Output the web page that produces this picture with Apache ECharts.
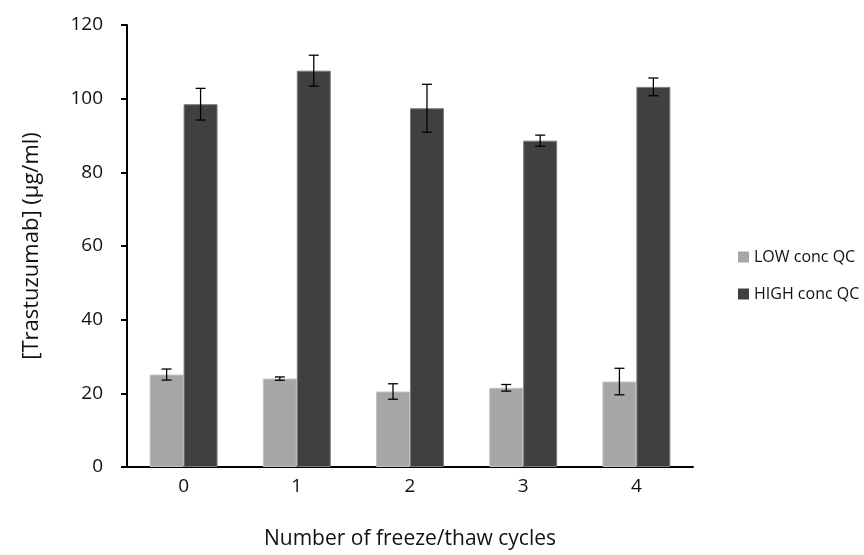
<!DOCTYPE html>
<html>
<head>
<meta charset="utf-8">
<script src="https://cdn.jsdelivr.net/npm/echarts@6/dist/echarts.min.js"></script>
<style>
  html, body { margin: 0; padding: 0; background: #fff; }
  #chart { width: 864px; height: 555px; }
</style>
</head>
<body>
<div id="chart"></div>
<script>
const categories = ['0', '1', '2', '3', '4'];
const lowMean = [25.1, 24.0, 20.5, 21.5, 23.2];
const lowErr = [1.5, 0.45, 2.1, 0.9, 3.6];
const highMean = [98.5, 107.6, 97.4, 88.6, 103.2];
const highErr = [4.3, 4.2, 6.5, 1.5, 2.4];
const yTicks = [0, 20, 40, 60, 80, 100, 120];

const font = '"Open Sans", "Noto Sans", sans-serif';

// error bar rows: [category index, mean, err, offset fraction of band]
const errRows = [];
lowMean.forEach((m, i) => errRows.push([i, m, lowErr[i], -0.15]));
highMean.forEach((m, i) => errRows.push([i, m, highErr[i], 0.15]));

function renderErr(params, api) {
  const idx = api.value(0);
  const mean = api.value(1);
  const err = api.value(2);
  const off = api.value(3);
  const band = api.size([1, 0])[0];
  const x = api.coord([idx, mean])[0] + off * band;
  const yTop = api.coord([idx, mean + err])[1];
  const yBot = api.coord([idx, mean - err])[1];
  const cap = 5;
  const style = { stroke: '#000', lineWidth: 1.3 };
  return {
    type: 'group',
    children: [
      { type: 'line', shape: { x1: x, y1: yTop, x2: x, y2: yBot }, style: style },
      { type: 'line', shape: { x1: x - cap, y1: yTop, x2: x + cap, y2: yTop }, style: style },
      { type: 'line', shape: { x1: x - cap, y1: yBot, x2: x + cap, y2: yBot }, style: style }
    ]
  };
}

const chart = echarts.init(document.getElementById('chart'));
chart.setOption({
  animation: false,
  textStyle: { fontFamily: font },
  grid: { left: 127, right: 171, top: 25, bottom: 88, containLabel: false, outerBoundsMode: 'none' },
  legend: {
    orient: 'vertical',
    left: 733,
    top: 244,
    itemWidth: 11,
    itemHeight: 11,
    itemGap: 21,
    icon: 'rect',
    itemStyle: { borderWidth: 0 },
    textStyle: { fontSize: 16, color: '#111', fontFamily: font },
    data: ['LOW conc QC', 'HIGH conc QC']
  },
  xAxis: {
    type: 'category',
    data: categories,
    name: 'Number of freeze/thaw cycles',
    nameLocation: 'middle',
    nameGap: 62,
    nameTextStyle: { fontSize: 21, color: '#111' },
    axisLine: { lineStyle: { color: '#000', width: 2 } },
    axisTick: { show: false },
    axisLabel: { fontSize: 19, color: '#111', margin: 10 }
  },
  yAxis: {
    type: 'value',
    min: yTicks[0],
    max: yTicks[yTicks.length - 1],
    interval: 20,
    name: '[Trastuzumab] (\u00b5g/ml)',
    nameLocation: 'middle',
    nameRotate: 90,
    nameGap: 84,
    nameTextStyle: { fontSize: 22, color: '#111' },
    axisLine: { show: true, lineStyle: { color: '#000', width: 2 } },
    axisTick: { show: true, length: 6, lineStyle: { color: '#000', width: 2 } },
    axisLabel: { fontSize: 19, color: '#111', margin: 24 },
    splitLine: { show: false }
  },
  series: [
    {
      name: 'LOW conc QC',
      type: 'bar',
      data: lowMean,
      barGap: '0%',
      barCategoryGap: '40%',
      itemStyle: { color: '#A6A6A6', borderColor: '#c4c4c4', borderWidth: 1 }
    },
    {
      name: 'HIGH conc QC',
      type: 'bar',
      data: highMean,
      barGap: '0%',
      barCategoryGap: '40%',
      itemStyle: { color: '#404040', borderColor: '#7a7a7a', borderWidth: 1 }
    },
    {
      type: 'custom',
      renderItem: renderErr,
      data: errRows,
      encode: { x: 0, y: 1 },
      z: 10,
      silent: true
    }
  ]
});
</script>
</body>
</html>
